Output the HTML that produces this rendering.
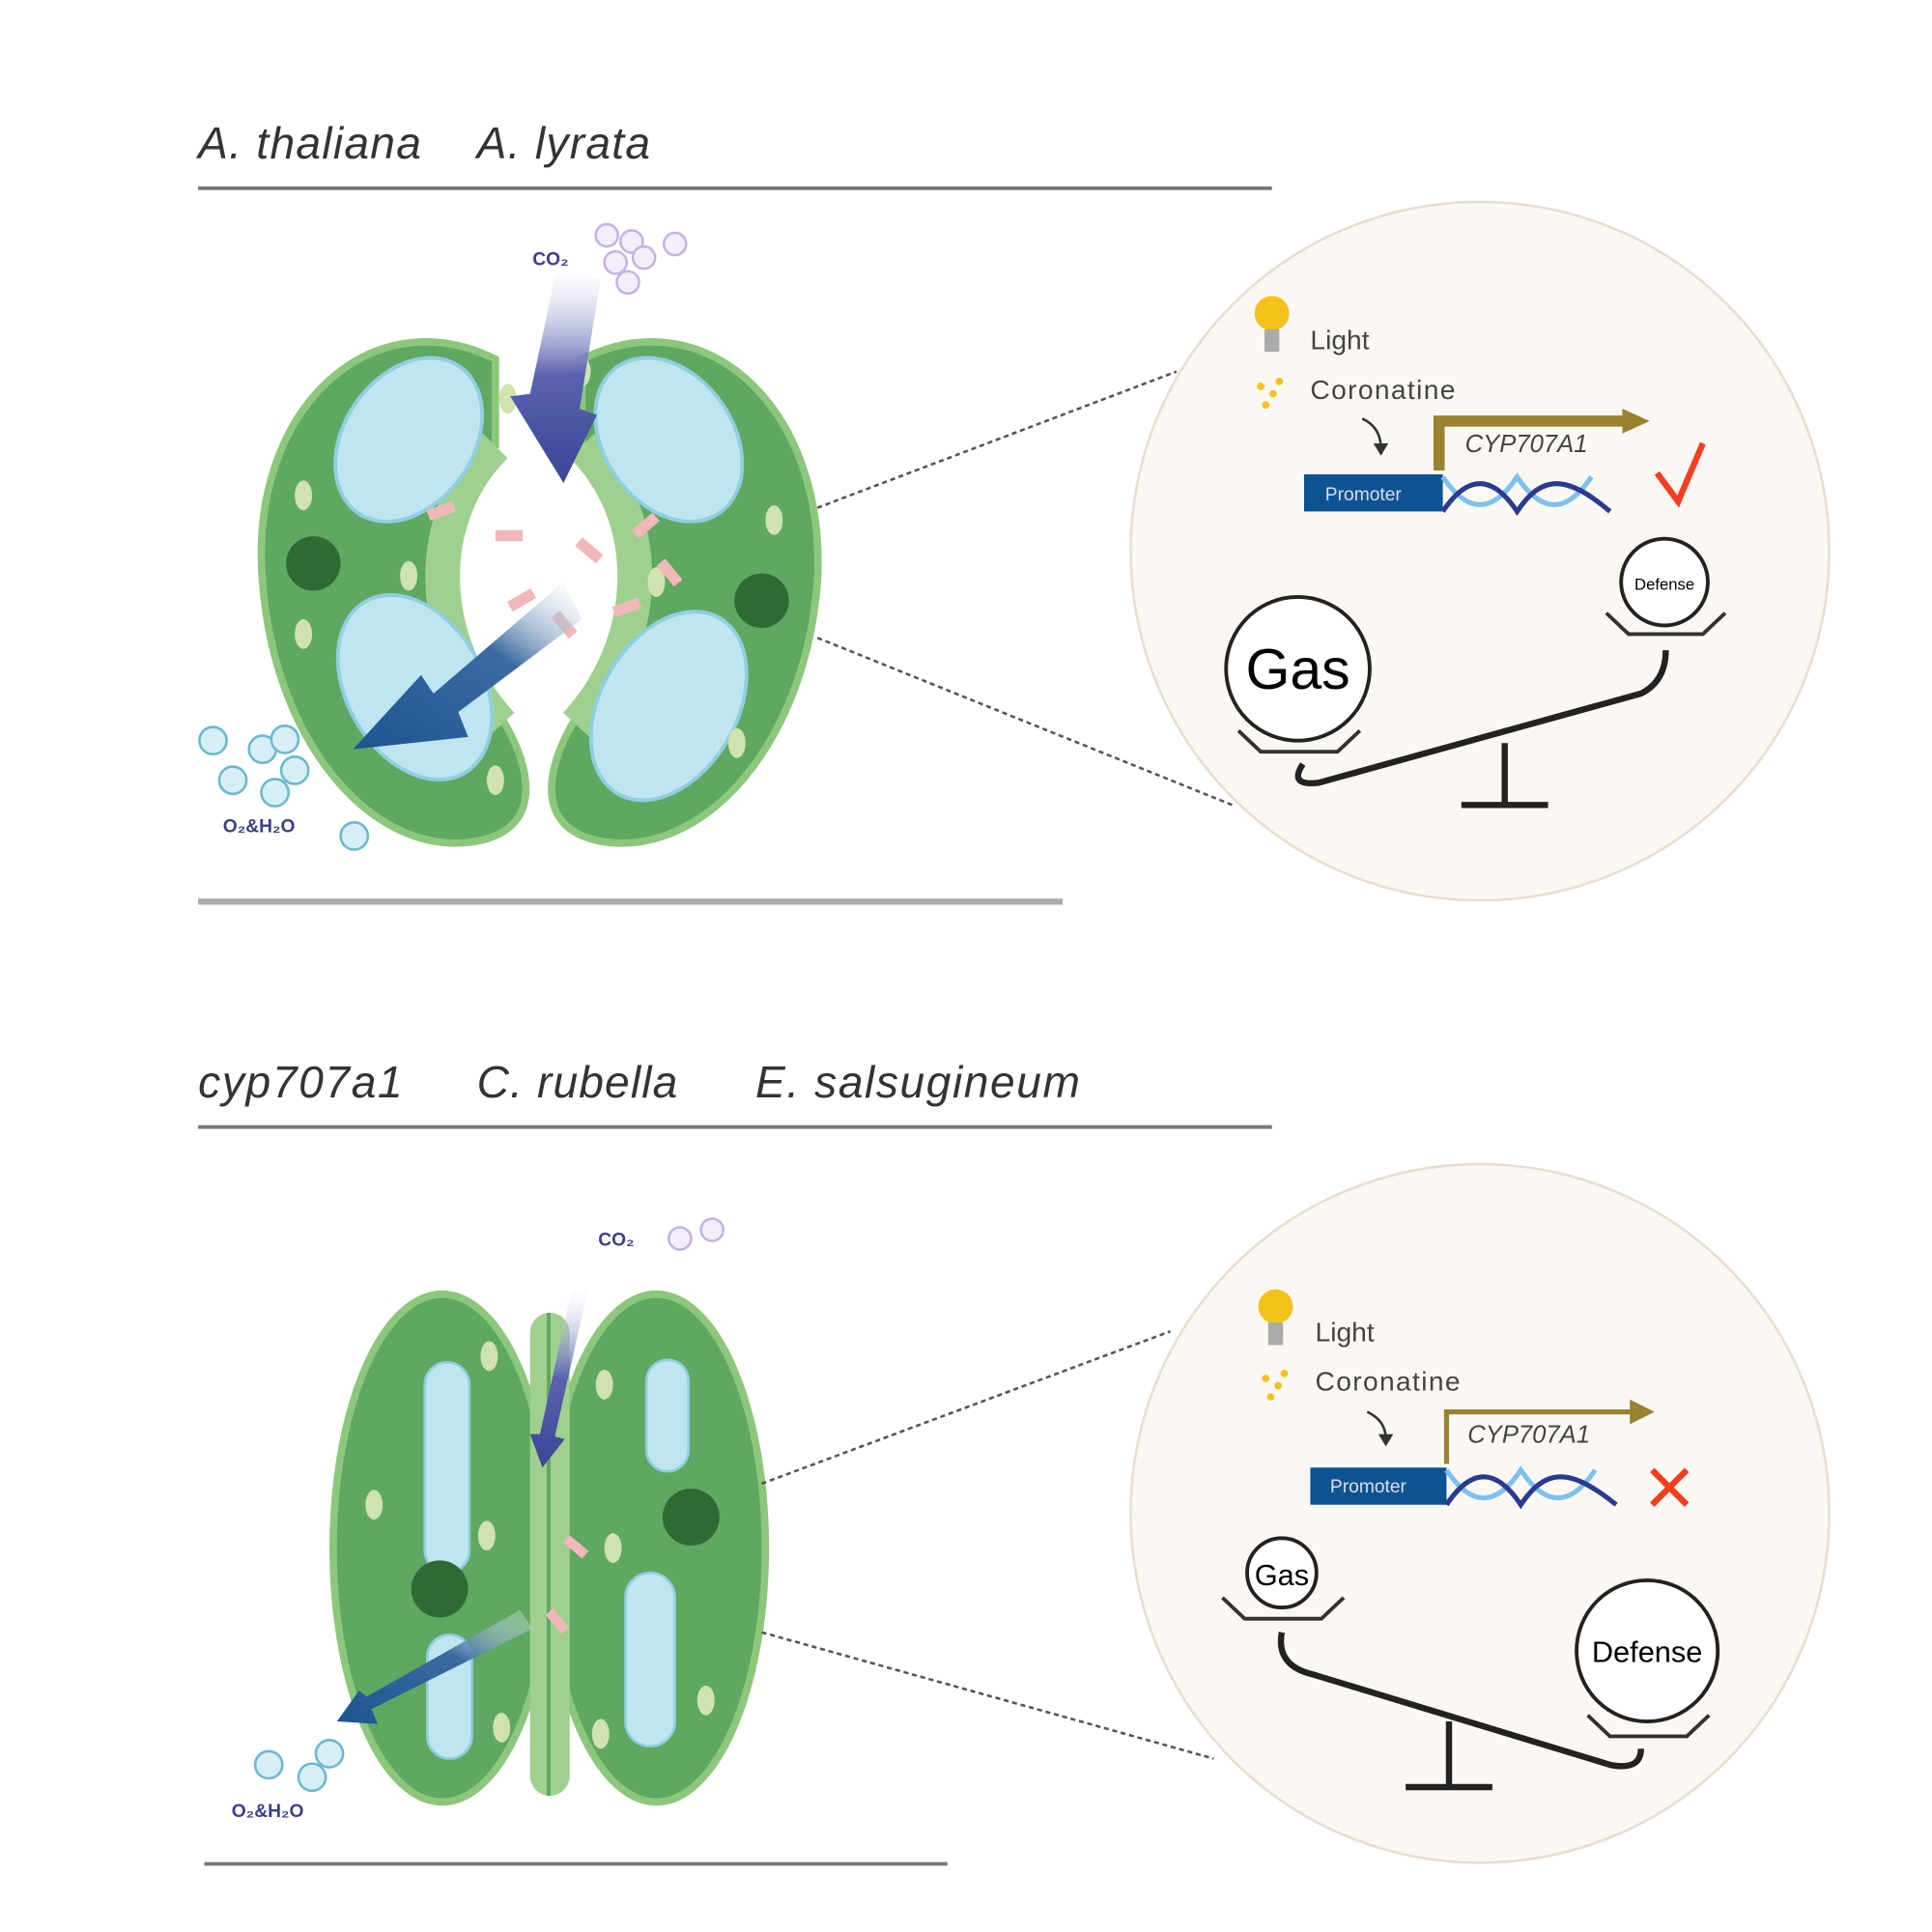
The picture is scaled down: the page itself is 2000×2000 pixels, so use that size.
<!DOCTYPE html>
<html><head><style>body{margin:0;background:#fff}svg{display:block}</style></head><body>
<svg width="2000" height="2000" viewBox="0 0 1560 1560" xmlns="http://www.w3.org/2000/svg" font-family="Liberation Sans, sans-serif">
<rect width="1560" height="1560" fill="#fff"/>
<!-- TOP -->
<text x="160" y="128" font-size="36" font-style="italic" fill="#333" textLength="180">A. thaliana</text>
<text x="385" y="128" font-size="36" font-style="italic" fill="#333" textLength="140">A. lyrata</text>
<line x1="160" y1="152" x2="1027" y2="152" stroke="#777" stroke-width="3"/>
<line x1="160" y1="728" x2="858" y2="728" stroke="#aaa" stroke-width="5"/>
<g>
<path d="M400,290 C300,240 200,330 212,470 C222,600 300,690 380,680 C440,672 430,620 405,580 C360,520 340,420 400,360 Z" fill="#5ea862" stroke="#8cc77c" stroke-width="6"/>
<path d="M470,290 C570,240 668,330 660,470 C650,600 570,690 490,680 C430,672 440,620 465,580 C510,520 530,420 470,360 Z" fill="#5ea862" stroke="#8cc77c" stroke-width="6"/>
<path d="M400,360 C340,420 345,520 405,585" fill="none" stroke="#9fd08f" stroke-width="28"/>
<path d="M470,360 C530,420 525,520 465,585" fill="none" stroke="#9fd08f" stroke-width="28"/>
<ellipse cx="330" cy="355" rx="52" ry="72" transform="rotate(35 330 355)" fill="#bfe5f1" stroke="#8fcfe0" stroke-width="3"/>
<ellipse cx="335" cy="555" rx="55" ry="80" transform="rotate(-30 335 555)" fill="#bfe5f1" stroke="#8fcfe0" stroke-width="3"/>
<ellipse cx="540" cy="355" rx="52" ry="72" transform="rotate(-35 540 355)" fill="#bfe5f1" stroke="#8fcfe0" stroke-width="3"/>
<ellipse cx="540" cy="570" rx="55" ry="82" transform="rotate(30 540 570)" fill="#bfe5f1" stroke="#8fcfe0" stroke-width="3"/>
<circle cx="253" cy="455" r="22" fill="#2f6a36"/>
<circle cx="615" cy="485" r="22" fill="#2f6a36"/>
<g fill="#cfe2b0"><ellipse cx="245" cy="400" rx="7" ry="12"/><ellipse cx="245" cy="512" rx="7" ry="12"/><ellipse cx="330" cy="465" rx="7" ry="12"/><ellipse cx="410" cy="322" rx="7" ry="12"/><ellipse cx="470" cy="300" rx="7" ry="12"/><ellipse cx="625" cy="420" rx="7" ry="12"/><ellipse cx="595" cy="600" rx="7" ry="12"/><ellipse cx="400" cy="630" rx="7" ry="12"/><ellipse cx="530" cy="470" rx="7" ry="12"/></g>
<g fill="#f0b8b8"><rect x="345" y="408" width="22" height="9" transform="rotate(-20 356 412)"/><rect x="400" y="428" width="22" height="9"/><rect x="465" y="440" width="22" height="9" transform="rotate(40 476 444)"/><rect x="510" y="420" width="22" height="9" transform="rotate(-40 521 424)"/><rect x="530" y="458" width="22" height="9" transform="rotate(50 541 462)"/><rect x="495" y="486" width="22" height="9" transform="rotate(-20 506 490)"/><rect x="410" y="480" width="22" height="9" transform="rotate(-30 421 484)"/><rect x="445" y="500" width="22" height="9" transform="rotate(50 456 504)"/></g>
</g>
<defs>
<linearGradient id="g1" x1="0" y1="0" x2="0" y2="1"><stop offset="0" stop-color="#fff" stop-opacity="0.2"/><stop offset="0.5" stop-color="#5a62b0"/><stop offset="1" stop-color="#3b4596"/></linearGradient>
<linearGradient id="g2" x1="1" y1="0" x2="0" y2="1"><stop offset="0" stop-color="#fff" stop-opacity="0.2"/><stop offset="0.4" stop-color="#3b6aa0"/><stop offset="1" stop-color="#1d5590"/></linearGradient>
</defs>
<path d="M450,215 L485,225 L468,330 L482,335 L455,390 L412,320 L428,318 Z" fill="url(#g1)"/>
<path d="M455,470 L470,500 L370,575 L378,595 L285,605 L340,545 L350,560 Z" fill="url(#g2)"/>
<text x="430" y="214" font-size="15" font-weight="bold" fill="#3b3f8a">CO₂</text>
<g fill="#f3effa" stroke="#c4b3e3" stroke-width="2"><circle cx="490" cy="190" r="9"/><circle cx="510" cy="195" r="9"/><circle cx="520" cy="208" r="9"/><circle cx="497" cy="212" r="9"/><circle cx="507" cy="228" r="9"/><circle cx="545" cy="197" r="9"/></g>
<g fill="#d6eef6" stroke="#6cb8cf" stroke-width="2"><circle cx="172" cy="598" r="11"/><circle cx="212" cy="605" r="11"/><circle cx="230" cy="597" r="11"/><circle cx="238" cy="622" r="11"/><circle cx="188" cy="630" r="11"/><circle cx="222" cy="640" r="11"/><circle cx="286" cy="675" r="11"/></g>
<text x="180" y="672" font-size="15" font-weight="bold" fill="#3b3f8a">O₂&amp;H₂O</text>
<line x1="660" y1="410" x2="950" y2="300" stroke="#555" stroke-width="2" stroke-dasharray="4,3"/>
<line x1="660" y1="515" x2="995" y2="650" stroke="#555" stroke-width="2" stroke-dasharray="4,3"/>
<circle cx="1195" cy="445" r="282" fill="#fbf8f3" stroke="#e8ddd0" stroke-width="2"/>
<circle cx="1027" cy="253" r="14" fill="#f4c21b"/><rect x="1021" y="266" width="12" height="18" fill="#aaa"/>
<text x="1058" y="282" font-size="22" fill="#444">Light</text>
<g fill="#f4c21b"><circle cx="1018" cy="312" r="3"/><circle cx="1028" cy="318" r="3"/><circle cx="1022" cy="327" r="3"/><circle cx="1033" cy="308" r="3"/></g>
<text x="1058" y="322" font-size="22" fill="#444" textLength="117">Coronatine</text>
<path d="M1100,338 Q1115,345 1115,362" fill="none" stroke="#333" stroke-width="2"/><path d="M1109,358 L1115,368 L1121,358Z" fill="#333"/>
<path d="M1162,380 L1162,340 L1315,340" fill="none" stroke="#9a8130" stroke-width="9"/><path d="M1310,330 L1332,340 L1310,350Z" fill="#9a8130"/>
<text x="1183" y="365" font-size="20" font-style="italic" fill="#444">CYP707A1</text>
<rect x="1053" y="383" width="112" height="30" fill="#0e5391"/>
<text x="1070" y="404" font-size="15" fill="#dde">Promoter</text>
<path d="M1165,385 C1185,415 1205,415 1225,385 C1245,415 1265,415 1285,385" fill="none" stroke="#7ec0ee" stroke-width="4"/>
<path d="M1165,413 C1185,383 1205,383 1225,413 C1245,383 1265,383 1300,413" fill="none" stroke="#2a3b8f" stroke-width="4"/>
<path d="M1338,382 L1355,405 L1375,358" fill="none" stroke="#f04020" stroke-width="5"/>
<circle cx="1344" cy="470" r="35" fill="#fff" stroke="#222" stroke-width="3"/><text x="1344" y="476" font-size="13" text-anchor="middle">Defense</text>
<path d="M1297,495 L1315,512 L1375,512 L1393,495" fill="none" stroke="#333" stroke-width="3"/>
<circle cx="1048" cy="540" r="58" fill="#fff" stroke="#222" stroke-width="3"/><text x="1048" y="556" font-size="46" text-anchor="middle">Gas</text>
<path d="M1000,590 L1018,607 L1080,607 L1098,590" fill="none" stroke="#333" stroke-width="3"/>
<path d="M1052,617 Q1040,635 1065,632 L1325,560 Q1345,550 1345,525" fill="none" stroke="#222" stroke-width="5"/>
<line x1="1215" y1="600" x2="1215" y2="650" stroke="#222" stroke-width="5"/><line x1="1180" y1="650" x2="1250" y2="650" stroke="#222" stroke-width="5"/>

<!-- BOTTOM -->
<text x="160" y="886" font-size="36" font-style="italic" fill="#333" textLength="165">cyp707a1</text>
<text x="385" y="886" font-size="36" font-style="italic" fill="#333" textLength="162">C. rubella</text>
<text x="610" y="886" font-size="36" font-style="italic" fill="#333" textLength="262">E. salsugineum</text>
<line x1="160" y1="910" x2="1027" y2="910" stroke="#777" stroke-width="3"/>
<line x1="165" y1="1505" x2="765" y2="1505" stroke="#777" stroke-width="3"/>
<ellipse cx="357" cy="1250" rx="88" ry="205" fill="#5ea862" stroke="#8cc77c" stroke-width="6"/>
<ellipse cx="530" cy="1250" rx="88" ry="205" fill="#5ea862" stroke="#8cc77c" stroke-width="6"/>
<rect x="428" y="1060" width="32" height="390" rx="16" fill="#9fd08f"/>
<line x1="443" y1="1060" x2="443" y2="1450" stroke="#5ea862" stroke-width="3"/>
<rect x="343" y="1100" width="36" height="170" rx="18" fill="#bfe5f1" stroke="#8fcfe0" stroke-width="2"/>
<rect x="345" y="1320" width="36" height="100" rx="18" fill="#bfe5f1" stroke="#8fcfe0" stroke-width="2"/>
<rect x="522" y="1098" width="34" height="90" rx="17" fill="#bfe5f1" stroke="#8fcfe0" stroke-width="2"/>
<rect x="505" y="1270" width="40" height="140" rx="20" fill="#bfe5f1" stroke="#8fcfe0" stroke-width="2"/>
<circle cx="355" cy="1283" r="23" fill="#2f6a36"/><circle cx="558" cy="1225" r="23" fill="#2f6a36"/>
<g fill="#cfe2b0"><ellipse cx="395" cy="1095" rx="7" ry="12"/><ellipse cx="302" cy="1215" rx="7" ry="12"/><ellipse cx="393" cy="1240" rx="7" ry="12"/><ellipse cx="488" cy="1118" rx="7" ry="12"/><ellipse cx="495" cy="1250" rx="7" ry="12"/><ellipse cx="570" cy="1373" rx="7" ry="12"/><ellipse cx="485" cy="1400" rx="7" ry="12"/><ellipse cx="405" cy="1395" rx="7" ry="12"/></g>
<g fill="#f0b8b8"><rect x="455" y="1245" width="20" height="8" transform="rotate(40 465 1249)"/><rect x="440" y="1305" width="20" height="8" transform="rotate(50 450 1309)"/></g>
<path d="M462,1040 L475,1040 L448,1160 L456,1162 L438,1185 L428,1158 L436,1158 Z" fill="url(#g1)"/>
<path d="M420,1300 L430,1315 L300,1380 L305,1392 L272,1390 L290,1365 L296,1370 Z" fill="url(#g2)"/>
<text x="483" y="1006" font-size="15" font-weight="bold" fill="#3b3f8a">CO₂</text>
<g fill="#f3effa" stroke="#c4b3e3" stroke-width="2"><circle cx="549" cy="1000" r="9"/><circle cx="575" cy="993" r="9"/></g>
<g fill="#d6eef6" stroke="#6cb8cf" stroke-width="2"><circle cx="217" cy="1425" r="11"/><circle cx="252" cy="1435" r="11"/><circle cx="266" cy="1416" r="11"/></g>
<text x="187" y="1467" font-size="15" font-weight="bold" fill="#3b3f8a">O₂&amp;H₂O</text>
<line x1="615" y1="1198" x2="945" y2="1075" stroke="#555" stroke-width="2" stroke-dasharray="4,3"/>
<line x1="615" y1="1318" x2="980" y2="1420" stroke="#555" stroke-width="2" stroke-dasharray="4,3"/>
<circle cx="1195" cy="1222" r="282" fill="#fbf8f3" stroke="#e8ddd0" stroke-width="2"/>
<circle cx="1030" cy="1055" r="14" fill="#f4c21b"/><rect x="1024" y="1068" width="12" height="18" fill="#aaa"/>
<text x="1062" y="1083" font-size="22" fill="#444">Light</text>
<g fill="#f4c21b"><circle cx="1022" cy="1113" r="3"/><circle cx="1032" cy="1119" r="3"/><circle cx="1026" cy="1128" r="3"/><circle cx="1037" cy="1109" r="3"/></g>
<text x="1062" y="1123" font-size="22" fill="#444" textLength="117">Coronatine</text>
<path d="M1104,1140 Q1119,1147 1119,1162" fill="none" stroke="#333" stroke-width="2"/><path d="M1113,1158 L1119,1168 L1125,1158Z" fill="#333"/>
<path d="M1168,1182 L1168,1140 L1320,1140" fill="none" stroke="#9a8130" stroke-width="4"/><path d="M1316,1130 L1336,1140 L1316,1150Z" fill="#9a8130"/>
<text x="1185" y="1165" font-size="20" font-style="italic" fill="#444">CYP707A1</text>
<rect x="1058" y="1185" width="110" height="30" fill="#0e5391"/>
<text x="1074" y="1205" font-size="15" fill="#dde">Promoter</text>
<path d="M1168,1187 C1188,1217 1208,1217 1228,1187 C1248,1217 1268,1217 1288,1187" fill="none" stroke="#7ec0ee" stroke-width="4"/>
<path d="M1168,1215 C1188,1185 1208,1185 1228,1215 C1248,1185 1268,1185 1305,1215" fill="none" stroke="#2a3b8f" stroke-width="4"/>
<path d="M1334,1187 L1362,1215 M1362,1187 L1334,1215" stroke="#f04020" stroke-width="5"/>
<circle cx="1035" cy="1270" r="28" fill="#fff" stroke="#222" stroke-width="3"/><text x="1035" y="1280" font-size="24" text-anchor="middle">Gas</text>
<path d="M987,1290 L1005,1307 L1067,1307 L1085,1290" fill="none" stroke="#333" stroke-width="3"/>
<circle cx="1330" cy="1333" r="57" fill="#fff" stroke="#222" stroke-width="3"/><text x="1330" y="1342" font-size="24" text-anchor="middle">Defense</text>
<path d="M1282,1385 L1300,1402 L1362,1402 L1380,1385" fill="none" stroke="#333" stroke-width="3"/>
<path d="M1035,1318 Q1030,1345 1060,1352 L1300,1425 Q1325,1430 1325,1412" fill="none" stroke="#222" stroke-width="5"/>
<line x1="1170" y1="1390" x2="1170" y2="1443" stroke="#222" stroke-width="5"/><line x1="1135" y1="1443" x2="1205" y2="1443" stroke="#222" stroke-width="5"/>
</svg>
</body></html>
